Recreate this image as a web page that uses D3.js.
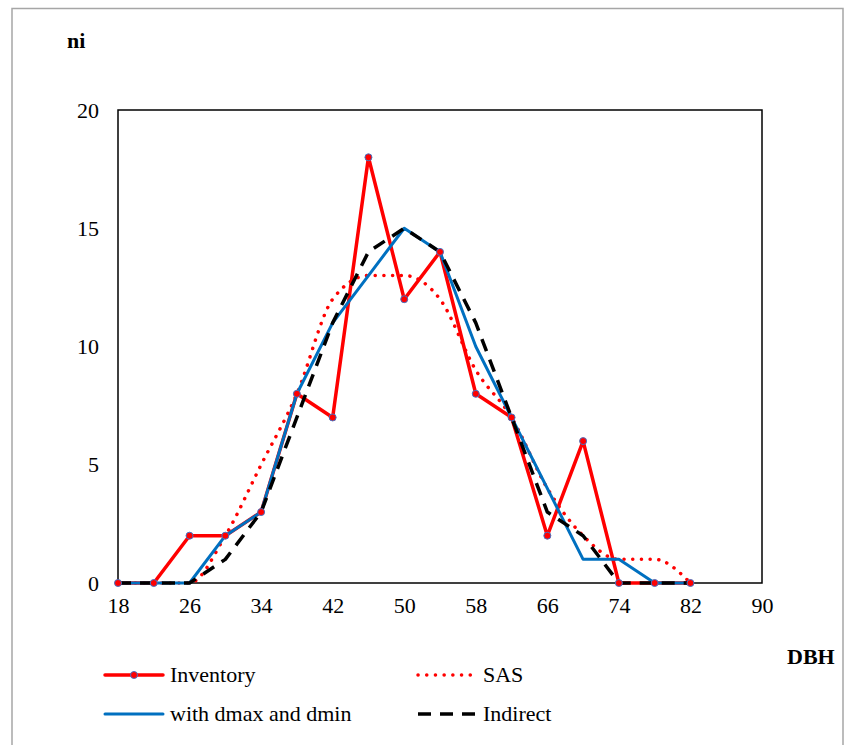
<!DOCTYPE html>
<html>
<head>
<meta charset="utf-8">
<script src="https://cdn.jsdelivr.net/npm/d3@7"></script>
<style>
  body { margin: 0; background: #fff; }
  svg text { font-family: "Liberation Serif", "Times New Roman", Tinos, "DejaVu Serif", serif; fill: #000; }
</style>
</head>
<body>
<svg id="chart" width="846" height="745"></svg>
<script>
'use strict';

// DBH classes (cm)
const dbh = [18, 22, 26, 30, 34, 38, 42, 46, 50, 54, 58, 62, 66, 70, 74, 78, 82];
const inventory = [0, 0, 2, 2, 3, 8, 7, 18, 12, 14, 8, 7, 2, 6, 0, 0, 0];
const sas = [0, 0, 0, 2, 5, 8, 12, 13, 13, 12, 9, 7, 4, 2, 1, 1, 0];
const dmaxDmin = [0, 0, 0, 2, 3, 8, 11, 13, 15, 14, 10, 7, 4, 1, 1, 0, 0];
const indirect = [0, 0, 0, 1, 3, 7, 11, 14, 15, 14, 11, 7, 3, 2, 0, 0, 0];
const xTicks = [18, 26, 34, 42, 50, 58, 66, 74, 82, 90];
const yTicks = [0, 5, 10, 15, 20];

const serif = '"Liberation Serif", "Times New Roman", Tinos, "DejaVu Serif", serif';
const fontSize = 22;

const svg = d3.select('#chart');

// outer frame
svg.append('rect')
  .attr('x', 12).attr('y', 8.5)
  .attr('width', 831).attr('height', 745)
  .attr('fill', 'none')
  .attr('stroke', '#a6a6a6')
  .attr('stroke-width', 1.5);

const plot = { left: 118, top: 110, right: 762, bottom: 583 };

const x = d3.scaleLinear().domain([18, 90]).range([plot.left, plot.right]);
const y = d3.scaleLinear().domain([0, 20]).range([plot.bottom, plot.top]);

// plot box
svg.append('rect')
  .attr('x', plot.left).attr('y', plot.top)
  .attr('width', plot.right - plot.left)
  .attr('height', plot.bottom - plot.top)
  .attr('fill', 'none')
  .attr('stroke', '#000')
  .attr('stroke-width', 1.5);

const xAxis = d3.axisBottom(x).tickValues(xTicks).tickSize(0).tickPadding(14);
const yAxis = d3.axisLeft(y).tickValues(yTicks).tickSize(0).tickPadding(19);

svg.append('g')
  .attr('transform', `translate(0, ${plot.bottom})`)
  .call(xAxis)
  .attr('font-family', serif)
  .attr('font-size', fontSize)
  .call(g => g.select('.domain').remove())
  .selectAll('text')
  .attr('fill', '#000');

svg.append('g')
  .attr('transform', `translate(${plot.left}, 0)`)
  .call(yAxis)
  .attr('font-family', serif)
  .attr('font-size', fontSize)
  .call(g => g.select('.domain').remove())
  .selectAll('text')
  .attr('fill', '#000');

// axis titles
svg.append('text')
  .attr('x', 67).attr('y', 48)
  .attr('font-family', serif)
  .style('font-size', fontSize + 'px')
  .style('font-weight', 'bold')
  .text('ni');

svg.append('text')
  .attr('x', 787).attr('y', 664)
  .attr('font-family', serif)
  .style('font-size', fontSize + 'px')
  .style('font-weight', 'bold')
  .text('DBH');

const straight = d3.line()
  .x((d, i) => x(dbh[i]))
  .y(d => y(d));

const smooth = d3.line()
  .curve(d3.curveMonotoneX)
  .x((d, i) => x(dbh[i]))
  .y(d => y(d));

const series = [
  { name: 'Inventory', values: inventory, line: straight, color: '#ff0000', width: 3.5, dash: null, cap: 'round' },
  { name: 'SAS', values: sas, line: smooth, color: '#ff0000', width: 3.5, dash: '0.1 8.6', cap: 'round' },
  { name: 'with dmax and dmin', values: dmaxDmin, line: straight, color: '#0070c0', width: 3, dash: null, cap: 'round' },
  { name: 'Indirect', values: indirect, line: straight, color: '#000000', width: 3.5, dash: '13 9', cap: 'butt' }
];

series.forEach(s => {
  svg.append('path')
    .datum(s.values)
    .attr('d', s.line)
    .attr('fill', 'none')
    .attr('stroke', s.color)
    .attr('stroke-width', s.width)
    .attr('stroke-linejoin', 'round')
    .attr('stroke-linecap', s.cap)
    .attr('stroke-dasharray', s.dash);
});

// inventory markers
svg.append('g')
  .selectAll('circle')
  .data(inventory)
  .join('circle')
  .attr('cx', (d, i) => x(dbh[i]))
  .attr('cy', d => y(d))
  .attr('r', 3.5)
  .attr('fill', '#ff0000')
  .attr('stroke', '#4472c4')
  .attr('stroke-width', 1);

// legend
const legend = [
  { s: series[0], lx: 105, ly: 675 },
  { s: series[1], lx: 418, ly: 675 },
  { s: series[2], lx: 105, ly: 714 },
  { s: series[3], lx: 418, ly: 714 }
];

legend.forEach(l => {
  const g = svg.append('g');
  g.append('line')
    .attr('x1', l.lx).attr('x2', l.lx + 58)
    .attr('y1', l.ly).attr('y2', l.ly)
    .attr('stroke', l.s.color)
    .attr('stroke-width', l.s.width)
    .attr('stroke-linecap', l.s.cap)
    .attr('stroke-dasharray', l.s.dash);
  if (l.s.name === 'Inventory') {
    g.append('circle')
      .attr('cx', l.lx + 29).attr('cy', l.ly)
      .attr('r', 3.5)
      .attr('fill', '#ff0000')
      .attr('stroke', '#4472c4')
      .attr('stroke-width', 1);
  }
  g.append('text')
    .attr('x', l.lx + 65).attr('y', l.ly + 7)
    .attr('font-family', serif)
    .style('font-size', fontSize + 'px')
    .text(l.s.name);
});
</script>
</body>
</html>
